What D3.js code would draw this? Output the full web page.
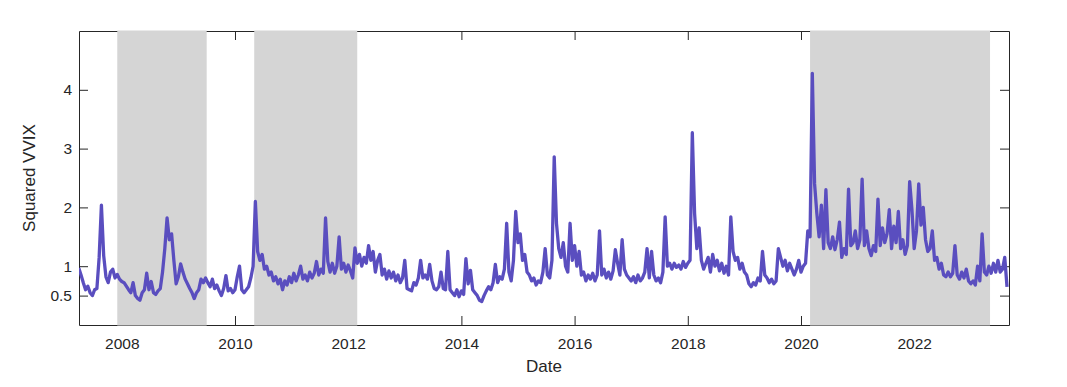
<!DOCTYPE html>
<html>
<head>
<meta charset="utf-8">
<script src="https://cdn.jsdelivr.net/npm/d3@7"></script>
<style>
  body { margin: 0; background: #fff; }
  text { font-family: "Liberation Sans", Arial, Helvetica, sans-serif; fill: #262626; }
</style>
</head>
<body>
<div id="chart"></div>
<script>
// squared VVIX, one reading every half month starting at startYear
const startYear = 2007.24;
const stepYears = 0.04;
const sqVvix = [
  0.97, 0.85, 0.72, 0.6, 0.66, 0.55, 0.5, 0.6, 0.62, 1.15, 2.04, 1.18, 0.82, 0.72, 0.9, 0.95, 0.8, 0.86, 0.78,
  0.74, 0.72, 0.66, 0.6, 0.55, 0.72, 0.5, 0.45, 0.42, 0.55, 0.6, 0.88, 0.6, 0.74, 0.55, 0.52, 0.58, 0.62, 0.9, 1.3,
  1.82, 1.45, 1.55, 1.1, 0.7, 0.82, 1.04, 0.9, 0.78, 0.7, 0.62, 0.55, 0.45, 0.55, 0.6, 0.78, 0.72, 0.8,
  0.72, 0.65, 0.78, 0.62, 0.68, 0.58, 0.5, 0.62, 0.84, 0.58, 0.62, 0.55, 0.6, 0.82, 1.0, 0.6, 0.55, 0.6, 0.65, 0.8, 1.0,
  2.1, 1.25, 1.1, 1.2, 0.95, 1.0, 0.85, 0.9, 0.75, 0.82, 0.7, 0.78, 0.6, 0.75, 0.68, 0.82, 0.72, 0.88, 0.75, 0.85,
  1.0, 0.78, 0.85, 0.75, 0.9, 0.8, 0.88, 1.08, 0.85, 0.95, 0.88, 1.82, 1.08, 0.9, 1.05, 0.88, 1.0, 1.5, 0.95, 1.05,
  0.9, 1.02, 0.92, 0.8, 1.31,
  1.05, 1.2, 1.0, 1.15, 1.05, 1.35, 1.1, 1.25, 0.9, 1.1,
  1.2, 0.85, 0.95, 0.78, 0.92, 0.8, 0.9, 0.75, 0.85, 0.72, 0.8, 1.1, 0.62, 0.6, 0.58, 0.72, 0.68, 0.8, 1.1, 0.8,
  0.85, 0.78, 1.03, 0.75, 0.62, 0.6, 0.65, 0.9, 0.62, 0.6, 1.25, 0.6, 0.55, 0.5, 0.6, 0.48, 0.58, 0.52, 1.13, 0.7,
  0.93, 0.6, 0.55, 0.5, 0.42, 0.4, 0.5, 0.58, 0.65, 0.6, 0.72, 1.03, 0.72, 0.82, 0.78, 0.95, 1.73, 0.9, 0.75, 1.1,
  1.93, 1.4, 1.55, 1.1, 1.2, 0.9, 0.85, 0.75, 0.8, 0.68, 0.75, 0.72, 0.9, 1.3, 0.85, 0.8, 1.1, 2.86, 1.73, 1.3,
  1.15, 1.4, 1.0, 0.9, 1.73, 1.1, 1.35, 1.0, 1.25, 0.85, 0.9, 0.75, 0.85, 0.78, 0.88, 0.75, 0.85, 1.6, 0.85, 0.95,
  0.8, 0.9, 0.78, 0.92, 1.28, 1.05, 0.85, 1.45, 0.95, 0.85, 0.8, 0.75, 0.82, 0.72, 0.85, 0.75, 0.8, 0.9, 1.3, 0.8,
  1.25, 0.85, 0.75, 0.8, 0.72, 0.9, 1.84, 1.0, 1.05, 0.95, 1.05, 0.98, 1.02, 0.95, 1.08, 0.98, 1.05, 1.1, 3.27, 1.9,
  1.3, 1.65, 1.1, 0.95, 1.05, 1.15, 0.9, 1.2, 1.0, 1.1, 0.92, 1.05, 0.88, 1.0, 0.85, 1.84, 1.25, 1.1, 1.15, 0.95,
  1.05, 0.9, 0.85, 0.7, 0.65, 0.72, 0.68, 0.8, 0.75, 1.25, 0.85, 0.8, 0.72, 0.78, 0.7, 0.75, 1.3, 1.15, 1.0, 1.1,
  0.92, 1.05, 0.95, 0.85, 0.95, 1.1, 0.9, 1.0, 1.05, 1.6,
  1.5, 4.28, 2.4, 1.9, 1.5, 2.04, 1.3, 2.3, 1.4, 1.3, 1.5, 1.28, 1.45, 1.75, 1.15, 1.3, 1.2, 2.31, 1.35, 1.4,
  1.6, 1.3, 1.45, 2.48, 1.35, 1.6, 1.3, 1.18, 1.35, 1.25, 2.14, 1.35, 1.65, 1.4, 1.55, 1.96, 1.3, 1.68, 1.4, 1.93,
  1.3, 1.45, 1.2, 1.35, 2.44, 1.96, 1.3, 1.6, 2.4, 1.7, 2.0, 1.45, 1.25, 1.3, 1.6, 1.1, 1.15, 0.95, 1.05, 0.85,
  0.82, 0.9, 0.82, 0.88, 1.35, 0.85, 0.78, 0.9, 0.8, 0.95, 0.75, 0.7, 0.75, 0.68, 1.0, 0.75, 1.55, 0.9, 0.85, 1.0,
  0.88, 1.05, 0.9, 1.1, 0.9, 0.95, 1.15, 0.65
];

// shaded periods (decimal years)
const shadeStart = [2007.92, 2010.34, 2020.16];
const shadeEnd = [2009.5, 2012.16, 2023.34];

const xTicks = [2008, 2010, 2012, 2014, 2016, 2018, 2020, 2022];
const yTicks = [0.5, 1, 2, 3, 4];

const margin = { top: 31, right: 58, bottom: 62, left: 79 };
const width = 1067 - margin.left - margin.right;
const height = 387 - margin.top - margin.bottom;

const data = sqVvix.map((v, i) => ({ t: startYear + i * stepYears, v: v }));
const shades = shadeStart.map((s, i) => ({ s: s, e: shadeEnd[i] }));

const svg = d3.select('#chart').append('svg')
    .attr('width', 1067)
    .attr('height', 387);

const g = svg.append('g')
    .attr('transform', `translate(${margin.left},${margin.top})`);

const x = d3.scaleLinear().domain([2007.244, 2023.675]).range([0, width]);
const y = d3.scaleLinear().domain([0, 5]).range([height, 0]);

// axes on all four sides, ticks pointing inwards
const axisColor = '#262626';
function styleAxis(sel) {
  sel.selectAll('path, line').attr('stroke', axisColor).attr('stroke-width', 1);
  sel.selectAll('text').style('font-size', '15.5px').attr('fill', axisColor);
}

g.append('g')
    .attr('transform', `translate(0,${height})`)
    .call(d3.axisBottom(x).tickValues(xTicks).tickFormat(d3.format('d'))
      .tickSize(-9).tickSizeOuter(0).tickPadding(13))
    .call(styleAxis);

g.append('g')
    .call(d3.axisTop(x).tickValues(xTicks).tickFormat('')
      .tickSize(-9).tickSizeOuter(0))
    .call(styleAxis);

g.append('g')
    .call(d3.axisLeft(y).tickValues(yTicks).tickFormat(d => d)
      .tickSize(-9).tickSizeOuter(0).tickPadding(7))
    .call(styleAxis);

g.append('g')
    .attr('transform', `translate(${width},0)`)
    .call(d3.axisRight(y).tickValues(yTicks).tickFormat('')
      .tickSize(-9).tickSizeOuter(0))
    .call(styleAxis);

g.selectAll('.domain').attr('stroke', axisColor);

// shaded periods sit above the frame
g.selectAll('.shade')
    .data(shades)
    .join('rect')
    .attr('class', 'shade')
    .attr('x', d => x(d.s))
    .attr('width', d => x(d.e) - x(d.s))
    .attr('y', -0.5)
    .attr('height', height + 1)
    .attr('fill', '#d5d5d5');

g.append('clipPath').attr('id', 'clip')
  .append('rect').attr('width', width).attr('height', height);

const line = d3.line()
    .x(d => x(d.t))
    .y(d => y(d.v));

g.append('path')
    .datum(data)
    .attr('clip-path', 'url(#clip)')
    .attr('fill', 'none')
    .attr('stroke', '#5a4ebf')
    .attr('stroke-width', 3.3)
    .attr('stroke-linejoin', 'round')
    .attr('d', line);

// axis titles
g.append('text')
    .attr('x', width / 2)
    .attr('y', height + 46.5)
    .attr('text-anchor', 'middle')
    .style('font-size', '17px')
    .text('Date');

g.append('text')
    .attr('transform', `translate(${-44},${height / 2}) rotate(-90)`)
    .attr('text-anchor', 'middle')
    .style('font-size', '17px')
    .text('Squared VVIX');
</script>
</body>
</html>
